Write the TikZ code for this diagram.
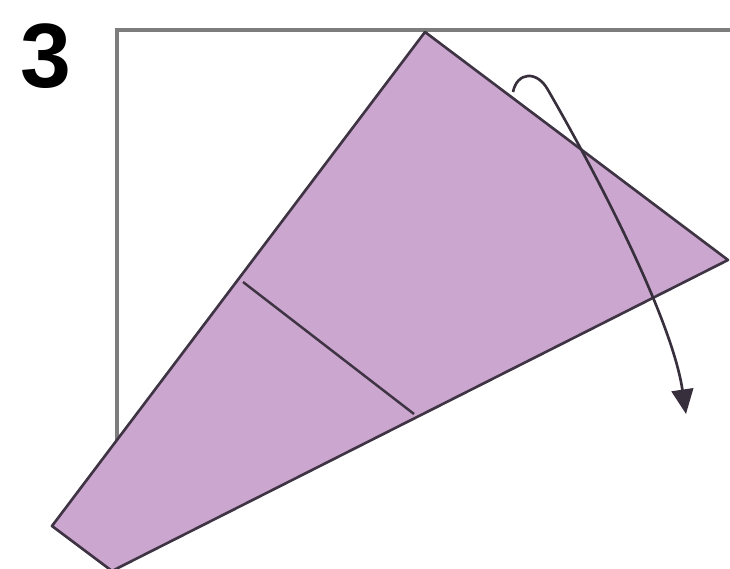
\documentclass[tikz,border=0pt]{standalone}
\usepackage{fontspec}
\setmainfont{Liberation Sans}
\usetikzlibrary{arrows.meta}
\definecolor{paper}{RGB}{203,166,206}
\definecolor{edge}{RGB}{62,52,68}
\definecolor{frame}{RGB}{125,125,125}
\tikzset{
  sheet/.style={fill=paper, draw=edge, line width=0.75pt, line join=round},
  crease/.style={draw=edge, line width=0.7pt},
  frameline/.style={draw=frame, line width=1.1pt},
  foldarrow/.style={draw=edge!90!black, line width=0.75pt, -{Triangle[length=7pt,width=6.2pt]}},
  steplabel/.style={font=\bfseries\fontsize{26}{26}\selectfont, inner sep=0pt}
}
\begin{document}
\begin{tikzpicture}[x=0.1mm,y=-0.1mm]
\useasboundingbox (0,0) rectangle (730,569);
\clip (0,0) rectangle (730,569);
\node[steplabel] (num) at (45.5,56) {3};
\coordinate (fb) at (117,440);
\coordinate (fc) at (117,30);
\coordinate (fr) at (740,30);
\draw[frameline] (fb) -- (fc) -- (fr);
\coordinate (top) at (425,32);
\coordinate (right) at (728,260);
\coordinate (bot) at (112,571);
\coordinate (tip) at (52,526);
\draw[sheet] (top) -- (right) -- (bot) -- (tip) -- cycle;
\coordinate (c1) at (243,282);
\coordinate (c2) at (414,414);
\draw[crease] (c1) -- (c2);
\coordinate (a0) at (513,92);
\coordinate (a1) at (548,90);
\coordinate (a2) at (686,414);
\draw[foldarrow] (a0) .. controls (517,72) and (537,70) .. (a1) .. controls (600,180) and (672,320) .. (a2);
\end{tikzpicture}
\end{document}
